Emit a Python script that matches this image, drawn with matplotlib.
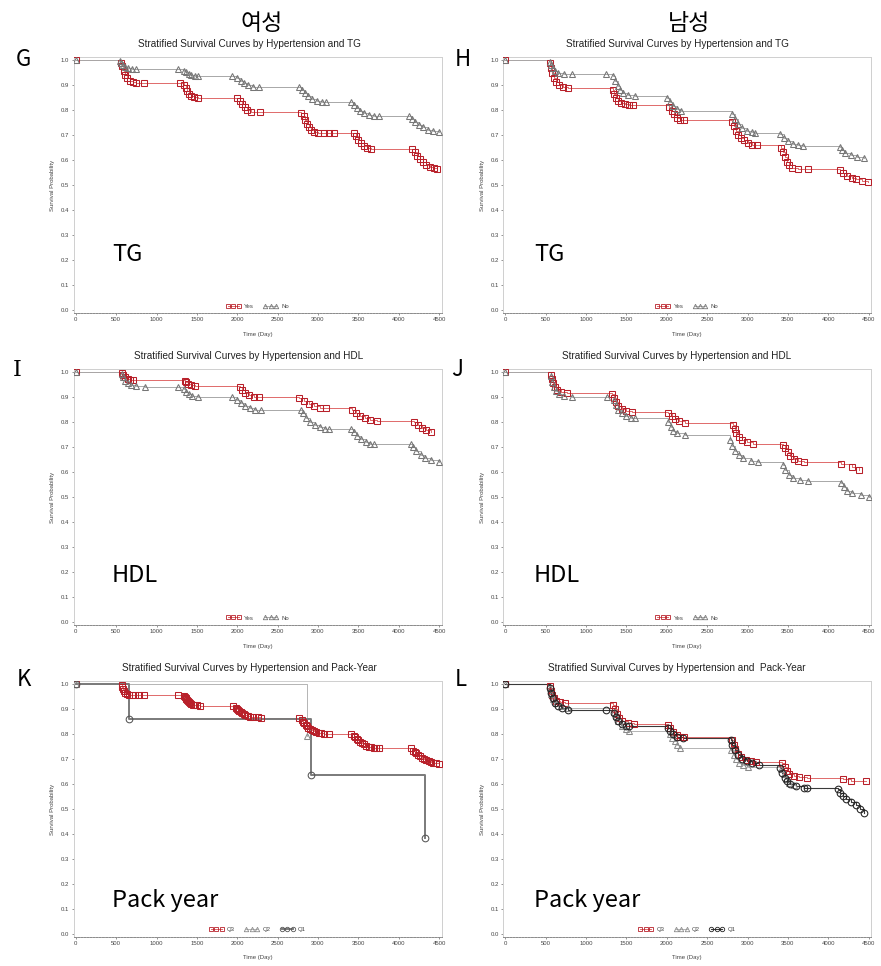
import matplotlib
matplotlib.use('Agg')
import matplotlib.pyplot as plt
from matplotlib.lines import Line2D

plt.rcParams['font.family'] = ['Liberation Sans', 'DejaVu Sans']

# ---------------- data ----------------
# Panel G (female, TG)
G_yes_t = [0, 560, 575, 590, 610, 635, 670, 710, 750, 840, 1285, 1340, 1360, 1380, 1405, 1430, 1465, 1508,
           2000, 2030, 2060, 2090, 2125, 2172, 2287, 2790, 2820, 2840, 2860, 2885, 2915, 2950, 3000, 3080, 3140,
           3200, 3440, 3470, 3500, 3530, 3570, 3610, 3655, 4170, 4200, 4230, 4260, 4300, 4340, 4390, 4440, 4475]
G_yes_s = [1.0, 0.990, 0.975, 0.958, 0.942, 0.928, 0.918, 0.912, 0.909, 0.909, 0.909, 0.900, 0.889, 0.877, 0.866, 0.857, 0.851, 0.848,
           0.848, 0.838, 0.826, 0.812, 0.801, 0.793, 0.792, 0.790, 0.775, 0.760, 0.746, 0.733, 0.722, 0.714, 0.710, 0.708, 0.708,
           0.708, 0.708, 0.695, 0.682, 0.668, 0.656, 0.648, 0.645, 0.645, 0.632, 0.618, 0.604, 0.592, 0.582, 0.574, 0.568, 0.565]
G_no_t = [0, 545, 560, 580, 605, 640, 690, 750, 1260, 1340, 1365, 1395, 1430, 1470, 1508, 1940, 2000, 2040, 2080, 2130, 2190, 2274,
          2770, 2800, 2840, 2880, 2930, 2990, 3050, 3098, 3407, 3440, 3480, 3520, 3570, 3630, 3690, 3757,
          4128, 4160, 4200, 4250, 4300, 4360, 4420, 4500]
G_no_s = [1.0, 0.995, 0.988, 0.980, 0.974, 0.969, 0.966, 0.964, 0.964, 0.958, 0.951, 0.945, 0.940, 0.937, 0.936, 0.936, 0.928, 0.918, 0.908, 0.900, 0.894, 0.892,
          0.892, 0.880, 0.867, 0.855, 0.845, 0.838, 0.834, 0.832, 0.832, 0.821, 0.809, 0.798, 0.789, 0.781, 0.777, 0.776,
          0.776, 0.765, 0.753, 0.741, 0.731, 0.722, 0.716, 0.712]

# Panel H (male, TG)
H_yes_t = [0, 553, 565, 580, 600, 625, 660, 710, 775, 1330, 1350, 1375, 1400, 1435, 1480, 1530, 1575,
           2030, 2060, 2090, 2125, 2165, 2214, 2805, 2830, 2855, 2885, 2920, 2960, 3010, 3060, 3112,
           3420, 3440, 3460, 3485, 3510, 3550, 3620, 3750, 4141, 4180, 4230, 4290, 4350, 4420, 4490]
H_yes_s = [1.0, 0.990, 0.970, 0.950, 0.930, 0.912, 0.900, 0.892, 0.888, 0.880, 0.865, 0.850, 0.838, 0.829, 0.823, 0.820, 0.819,
           0.812, 0.798, 0.783, 0.770, 0.762, 0.759, 0.752, 0.735, 0.718, 0.702, 0.690, 0.680, 0.670, 0.662, 0.659,
           0.650, 0.632, 0.612, 0.594, 0.580, 0.570, 0.565, 0.563, 0.560, 0.548, 0.538, 0.530, 0.524, 0.518, 0.512]
H_no_t = [0, 553, 570, 590, 615, 650, 720, 820, 1250, 1330, 1360, 1390, 1420, 1460, 1520, 1600,
          2005, 2040, 2080, 2120, 2173, 2805, 2840, 2880, 2930, 2990, 3050, 3096,
          3403, 3450, 3500, 3560, 3620, 3690, 4141, 4170, 4210, 4280, 4360, 4449]
H_no_s = [1.0, 0.993, 0.980, 0.967, 0.956, 0.949, 0.946, 0.945, 0.945, 0.935, 0.915, 0.895, 0.880, 0.869, 0.860, 0.855,
          0.848, 0.832, 0.815, 0.803, 0.795, 0.785, 0.765, 0.745, 0.728, 0.717, 0.711, 0.709,
          0.703, 0.690, 0.677, 0.666, 0.660, 0.657, 0.652, 0.640, 0.628, 0.620, 0.614, 0.610]

# Panel I (female, HDL)
I_yes_t = [0, 565, 585, 610, 640, 670, 705, 1347, 1365, 1390, 1420, 1470, 2027, 2060, 2100, 2150, 2210, 2274,
           2770, 2830, 2890, 2950, 3020, 3098, 3424, 3470, 3520, 3580, 3650, 3733, 4190, 4240, 4290, 4340, 4397]
I_yes_s = [1.0, 0.995, 0.988, 0.980, 0.974, 0.970, 0.968, 0.966, 0.960, 0.954, 0.949, 0.945, 0.940, 0.930, 0.918, 0.908, 0.902, 0.899,
           0.896, 0.885, 0.873, 0.864, 0.858, 0.855, 0.850, 0.838, 0.826, 0.816, 0.809, 0.805, 0.800, 0.789, 0.778, 0.768, 0.759]
I_no_t = [0, 565, 585, 610, 640, 680, 740, 853, 1260, 1340, 1370, 1400, 1440, 1508, 1940, 2000, 2050, 2100, 2160, 2220, 2295,
          2789, 2810, 2850, 2900, 2960, 3030, 3090, 3140, 3407, 3440, 3480, 3530, 3590, 3650, 3696,
          4149, 4180, 4220, 4270, 4330, 4400, 4500]
I_no_s = [1.0, 0.993, 0.980, 0.966, 0.955, 0.948, 0.943, 0.941, 0.941, 0.933, 0.922, 0.912, 0.904, 0.899, 0.899, 0.889, 0.876, 0.864, 0.855, 0.850, 0.848,
          0.848, 0.835, 0.818, 0.802, 0.789, 0.779, 0.774, 0.772, 0.772, 0.760, 0.745, 0.731, 0.720, 0.714, 0.712,
          0.712, 0.700, 0.685, 0.670, 0.657, 0.647, 0.639]

# Panel J (male, HDL)
J_yes_t = [0, 562, 575, 590, 610, 640, 690, 767, 1322, 1345, 1370, 1400, 1440, 1500, 1568, 2020, 2060, 2100, 2150, 2225,
           2821, 2840, 2860, 2890, 2930, 2990, 3068, 3437, 3470, 3500, 3530, 3570, 3620, 3703, 4156, 4291, 4381]
J_yes_s = [1.0, 0.990, 0.973, 0.955, 0.940, 0.929, 0.921, 0.918, 0.912, 0.897, 0.880, 0.865, 0.853, 0.845, 0.842, 0.835, 0.823, 0.812, 0.803, 0.798,
           0.790, 0.772, 0.755, 0.740, 0.728, 0.719, 0.714, 0.708, 0.695, 0.680, 0.665, 0.652, 0.645, 0.641, 0.633, 0.622, 0.609]
J_no_t = [0, 562, 580, 600, 630, 670, 730, 829, 1260, 1340, 1370, 1400, 1440, 1500, 1560, 1609, 2020, 2050, 2080, 2130, 2225,
          2780, 2810, 2840, 2890, 2950, 3040, 3129, 3437, 3470, 3510, 3560, 3650, 3745, 4156, 4190, 4230, 4300, 4400, 4500]
J_no_s = [1.0, 0.985, 0.962, 0.942, 0.925, 0.913, 0.905, 0.902, 0.902, 0.890, 0.870, 0.850, 0.835, 0.824, 0.818, 0.816, 0.800, 0.782, 0.766, 0.755, 0.747,
          0.730, 0.705, 0.685, 0.668, 0.655, 0.645, 0.640, 0.628, 0.608, 0.590, 0.576, 0.567, 0.563, 0.555, 0.540, 0.525, 0.515, 0.507, 0.500]

# Panel K (female, Pack-Year)
K_q3_t = [0, 565, 575, 585, 595, 610, 630, 660, 700, 729, 780, 840, 1260, 1340, 1350, 1360, 1370, 1380, 1390, 1400, 1415, 1430, 1450, 1470, 1500, 1533,
          1944, 1980, 1995, 2010, 2025, 2040, 2060, 2080, 2100, 2130, 2160, 2200, 2250, 2295,
          2770, 2800, 2815, 2830, 2845, 2860, 2880, 2900, 2925, 2950, 2980, 3010, 3040, 3080, 3140,
          3407, 3440, 3460, 3480, 3500, 3520, 3545, 3570, 3600, 3630, 3660, 3690, 3720, 3757,
          4149, 4180, 4200, 4220, 4240, 4260, 4285, 4310, 4340, 4370, 4400, 4430, 4465, 4500]
K_q3_s = [1.0, 0.995, 0.988, 0.980, 0.972, 0.965, 0.960, 0.957, 0.955, 0.955, 0.955, 0.955, 0.955, 0.950, 0.946, 0.943, 0.939, 0.935, 0.931, 0.927, 0.923, 0.920, 0.917, 0.915, 0.914, 0.913,
          0.913, 0.905, 0.901, 0.896, 0.892, 0.887, 0.883, 0.878, 0.875, 0.871, 0.869, 0.867, 0.866, 0.865,
          0.865, 0.855, 0.849, 0.843, 0.837, 0.831, 0.825, 0.820, 0.815, 0.811, 0.808, 0.805, 0.803, 0.801, 0.800,
          0.800, 0.792, 0.786, 0.780, 0.775, 0.769, 0.763, 0.758, 0.753, 0.749, 0.746, 0.744, 0.743, 0.742,
          0.742, 0.733, 0.728, 0.722, 0.716, 0.711, 0.705, 0.700, 0.695, 0.691, 0.687, 0.684, 0.682, 0.680]
K_q2_t = [0, 2859]
K_q2_s = [1.0, 0.790]
K_q1_t = [0, 655, 2913, 4326]
K_q1_s = [1.0, 0.861, 0.635, 0.383]

# Panel L (male, Pack-Year)
L_q3_t = [0, 550, 565, 580, 600, 630, 680, 735, 1332, 1355, 1380, 1410, 1450, 1520, 1598, 2010, 2040, 2080, 2120, 2160, 2215,
          2812, 2830, 2850, 2880, 2920, 2980, 3040, 3099, 3428, 3460, 3490, 3520, 3570, 3640, 3736, 4187, 4280, 4470]
L_q3_s = [1.0, 0.990, 0.972, 0.955, 0.942, 0.932, 0.926, 0.923, 0.915, 0.898, 0.880, 0.865, 0.852, 0.845, 0.841, 0.835, 0.823, 0.808, 0.796, 0.789, 0.786,
          0.775, 0.755, 0.738, 0.720, 0.706, 0.697, 0.692, 0.689, 0.684, 0.668, 0.652, 0.640, 0.632, 0.628, 0.625, 0.618, 0.612, 0.610]
L_q2_t = [0, 550, 570, 595, 630, 690, 780, 1340, 1370, 1400, 1440, 1490, 1530, 2040, 2070, 2100, 2130, 2160,
          2800, 2830, 2860, 2900, 2950, 3000, 3420, 3450, 3480, 3520, 3570]
L_q2_s = [1.0, 0.985, 0.960, 0.940, 0.922, 0.910, 0.904, 0.888, 0.870, 0.850, 0.832, 0.818, 0.813, 0.800, 0.785, 0.770, 0.755, 0.745,
          0.735, 0.715, 0.700, 0.685, 0.674, 0.668, 0.660, 0.640, 0.620, 0.605, 0.596]
L_q1_t = [0, 550, 565, 585, 610, 650, 700, 777, 1249, 1340, 1370, 1400, 1440, 1490, 1537, 2010, 2040, 2080, 2130, 2200,
          2790, 2810, 2840, 2880, 2930, 2990, 3060, 3140, 3407, 3430, 3460, 3490, 3530, 3600, 3700, 3736,
          4126, 4150, 4180, 4220, 4280, 4340, 4390, 4440]
L_q1_s = [1.0, 0.985, 0.965, 0.945, 0.925, 0.910, 0.902, 0.897, 0.897, 0.885, 0.868, 0.852, 0.840, 0.833, 0.830, 0.825, 0.812, 0.798, 0.789, 0.785,
          0.775, 0.755, 0.735, 0.715, 0.700, 0.690, 0.682, 0.675, 0.665, 0.645, 0.625, 0.610, 0.598, 0.590, 0.585, 0.583,
          0.580, 0.565, 0.552, 0.540, 0.528, 0.515, 0.500, 0.485]

x_ticks = [0, 500, 1000, 1500, 2000, 2500, 3000, 3500, 4000, 4500]
y_ticks = [0.0, 0.1, 0.2, 0.3, 0.4, 0.5, 0.6, 0.7, 0.8, 0.9, 1.0]

col_headers = ['여성', '남성']
panel_letters = ['G', 'H', 'I', 'J', 'K', 'L']
panel_titles = ['Stratified Survival Curves by Hypertension and TG',
                'Stratified Survival Curves by Hypertension and TG',
                'Stratified Survival Curves by Hypertension and HDL',
                'Stratified Survival Curves by Hypertension and HDL',
                'Stratified Survival Curves by Hypertension and Pack-Year',
                'Stratified Survival Curves by Hypertension and  Pack-Year']
big_labels = ['TG', 'TG', 'HDL', 'HDL', 'Pack year', 'Pack year']

# ---------------- styles ----------------
RED = dict(lc='#e06a6a', mc='#b8202a', marker='s', ms=4.2, lw=0.7)
GRAY = dict(lc='#a8a8a8', mc='#767676', marker='^', ms=4.5, lw=0.7)
Q2STY = dict(lc='#b4b4b4', mc='#8a8a8a', marker='^', ms=4.5, lw=0.7)
Q1K = dict(lc='#7a7a7a', mc='#555555', marker='o', ms=4.8, lw=1.4)
Q1L = dict(lc='#3a3a3a', mc='#222222', marker='o', ms=4.8, lw=0.8)

panels = [
    [('Yes', G_yes_t, G_yes_s, RED), ('No', G_no_t, G_no_s, GRAY)],
    [('Yes', H_yes_t, H_yes_s, RED), ('No', H_no_t, H_no_s, GRAY)],
    [('Yes', I_yes_t, I_yes_s, RED), ('No', I_no_t, I_no_s, GRAY)],
    [('Yes', J_yes_t, J_yes_s, RED), ('No', J_no_t, J_no_s, GRAY)],
    [('Q3', K_q3_t, K_q3_s, RED), ('Q2', K_q2_t, K_q2_s, Q2STY), ('Q1', K_q1_t, K_q1_s, Q1K)],
    [('Q3', L_q3_t, L_q3_s, RED), ('Q2', L_q2_t, L_q2_s, Q2STY), ('Q1', L_q1_t, L_q1_s, Q1L)],
]

W, H = 881, 966
fig = plt.figure(figsize=(W / 100, H / 100), dpi=100)

col_lr = [(73.5, 441.5), (503.0, 871.0)]
row_tb = [(57.3, 313.3), (369.3, 625.3), (681.0, 937.0)]
title_x = [0.477, 0.473]
letter_xy = [(23.5, 60), (462.5, 60), (17.5, 370), (457, 370), (23.5, 680), (460.5, 680)]
big_xy = [(112, 261), (534, 261), (112, 582.3), (534, 582.3), (112, 906.7), (534, 907.5)]

for i, curves in enumerate(panels):
    r, c = divmod(i, 2)
    l, rr = col_lr[c]
    t, b = row_tb[r]
    ax = fig.add_axes([l / W, 1 - b / H, (rr - l) / W, (b - t) / H])
    for name, tt, ss, st in curves:
        ax.step(tt, ss, where='post', color=st['lc'], lw=st['lw'], zorder=2)
        ax.plot(tt, ss, ls='none', marker=st['marker'], ms=st['ms'], mfc='none',
                mec=st['mc'], mew=0.75, zorder=3)
    ax.set_xlim(-30, 4530)
    ax.set_ylim(-0.013, 1.011)
    ax.set_xticks(x_ticks)
    ax.set_yticks(y_ticks)
    ax.set_xticklabels([str(v) for v in x_ticks])
    ax.set_yticklabels(['%.1f' % v for v in y_ticks])
    ax.tick_params(axis='both', labelsize=4.3, colors='#444444', length=1.5, width=0.4, pad=1.5)
    for side in ['top', 'right', 'left']:
        ax.spines[side].set_color('#cfcfcf')
        ax.spines[side].set_linewidth(0.7)
    ax.spines['bottom'].set_color('#8a8a8a')
    ax.spines['bottom'].set_linewidth(0.7)
    ax.spines['bottom'].set_linestyle((0, (2, 1.2)))
    ax.text(-0.056, 0.5, 'Survival Probability', transform=ax.transAxes, rotation=90,
            ha='center', va='center', fontsize=4.3, color='#444444')
    ax.text(0.5, -0.081, 'Time (Day)', transform=ax.transAxes, ha='center', va='center',
            fontsize=4.3, color='#444444')
    ax.text(title_x[c], 1 + 13.3 / 256, panel_titles[i], transform=ax.transAxes,
            ha='center', va='center', fontsize=7.2, color='#222222')
    handles = [Line2D([], [], color=st['lc'], lw=st['lw'], marker=st['marker'], ms=3.2,
                      mfc='none', mec=st['mc'], mew=0.6) for _, _, _, st in curves]
    labels = [name for name, _, _, _ in curves]
    ax.legend(handles, labels, loc='center', bbox_to_anchor=(0.5, 7.3 / 256),
              ncol=len(curves), frameon=False, fontsize=4.3, numpoints=3,
              handlelength=2.4, handletextpad=0.6, columnspacing=1.6, borderpad=0,
              labelcolor='#444444')
    lx, ly = letter_xy[i]
    fam = ['DejaVu Serif'] if panel_letters[i] == 'I' else ['Noto Sans CJK KR', 'DejaVu Sans']
    fig.text(lx / W, 1 - ly / H, panel_letters[i], ha='center', va='center',
             fontsize=16, family=fam, color='black')
    bx, by = big_xy[i]
    fig.text(bx / W, 1 - by / H, big_labels[i], ha='left', va='baseline',
             fontsize=17, family=['Noto Sans CJK KR', 'DejaVu Sans'], color='black')

fig.text(262 / W, 1 - 23 / H, col_headers[0], ha='center', va='center', fontsize=16.5,
         family=['Noto Sans CJK KR', 'DejaVu Sans'])
fig.text(689 / W, 1 - 23 / H, col_headers[1], ha='center', va='center', fontsize=16.5,
         family=['Noto Sans CJK KR', 'DejaVu Sans'])

fig.savefig('out.png', dpi=100)
